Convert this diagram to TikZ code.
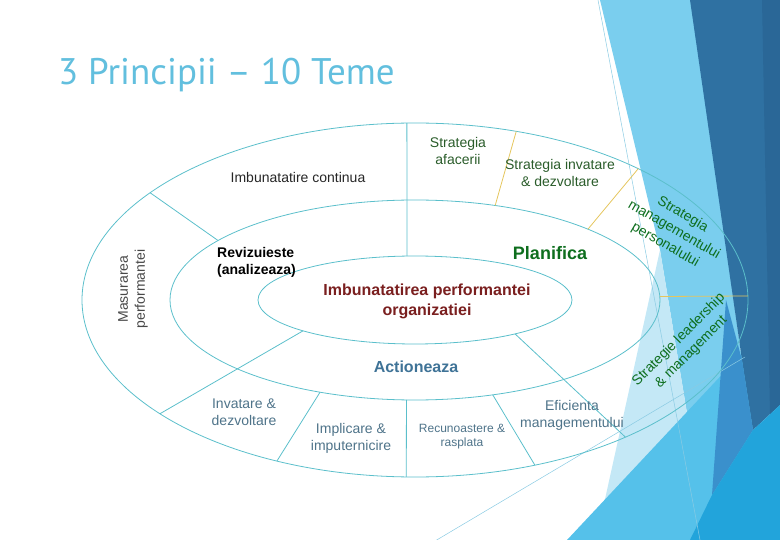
\documentclass[tikz,border=0pt]{standalone}
\usepackage{fontspec}
\setmainfont{Liberation Sans}
\newfontfamily\titlefont{PT Sans}
\usepackage{tikz}
\usetikzlibrary{calc}
\definecolor{ring}{HTML}{5BBFCB}
\definecolor{gold}{HTML}{E5C65E}
\definecolor{titleblue}{HTML}{62BFDE}
\definecolor{ink}{HTML}{262626}
\definecolor{forest}{HTML}{2A5C2A}
\definecolor{leaf}{HTML}{0E6E1E}
\definecolor{wine}{HTML}{7A1F1F}
\definecolor{steel}{HTML}{3F7397}
\definecolor{slate}{HTML}{4E7389}
\definecolor{facetpale}{HTML}{C4E8F6}
\definecolor{facetlight}{HTML}{7ACEEE}
\definecolor{facetcyan}{HTML}{55C1EA}
\definecolor{facetmid}{HTML}{3A90CC}
\definecolor{facetbright}{HTML}{22A4DB}
\definecolor{facetdark}{HTML}{2F71A2}
\definecolor{facetnavy}{HTML}{2A6797}
\definecolor{facetline}{HTML}{8ACBE3}
\tikzset{
  ringline/.style={draw=ring,line width=0.8pt},
  goldline/.style={draw=gold,line width=0.8pt},
  thinline/.style={draw=facetline,line width=0.5pt},
  theme/.style={align=center,inner sep=1pt,font=\fontsize{14}{17}\selectfont},
  tilted/.style={theme,text=leaf,font=\fontsize{14}{17.5}\selectfont},
  phase/.style={align=center,inner sep=1pt,font=\bfseries\fontsize{16}{20}\selectfont}
}
\begin{document}
\begin{tikzpicture}[x=1pt,y=-1pt]
  \useasboundingbox (0,0) rectangle (780,540);
  \fill[facetlight] (600,0) -- (692,0) -- (742,360) -- (708,540) -- (660,250) -- cycle;
  \fill[facetpale] (660,250) -- (708,540) -- (596,540) -- cycle;
  \fill[facetcyan] (567,540) -- (745,350) -- (765,540) -- cycle;
  \fill[facetdark] (690,0) -- (780,0) -- (780,405) -- (753,430) -- (742,360) -- cycle;
  \fill[facetnavy] (762,0) -- (780,0) -- (780,405) -- (770,414) -- cycle;
  \fill[facetmid] (726,300) -- (742,360) -- (753,430) -- (712,495) -- cycle;
  \fill[facetbright] (753,430) -- (780,405) -- (780,540) -- (690,540) -- (712,495) -- cycle;
  \draw[thinline] (598,0) -- (700,540);
  \draw[thinline] (435,541) -- (745,357);

  \node[anchor=west,inner sep=0pt,text=titleblue,font=\titlefont\fontsize{37}{42}\selectfont] (title) at (58,75) {3 Principii – 10 Teme};

  \coordinate (ctr) at (415,300);
  \draw[ringline] (ctr) ellipse [x radius=333pt,y radius=177pt];
  \draw[ringline] (ctr) ellipse [x radius=245pt,y radius=100pt];
  \draw[ringline] (ctr) ellipse [x radius=157pt,y radius=44pt];
  \draw[ringline] ($(ctr)+(91.4:333pt and 177pt)$) -- ($(ctr)+(92.9:157pt and 44pt)$);
  \draw[ringline] ($(ctr)+(142.7:333pt and 177pt)$) -- ($(ctr)+(143.5:245pt and 100pt)$);
  \draw[ringline] ($(ctr)+(220:333pt and 177pt)$) -- ($(ctr)+(224.5:157pt and 44pt)$);
  \draw[ringline] ($(ctr)+(245.5:333pt and 177pt)$) -- ($(ctr)+(247.2:245pt and 100pt)$);
  \draw[ringline] ($(ctr)+(268.5:333pt and 177pt)$) -- ($(ctr)+(268:245pt and 100pt)$);
  \draw[ringline] ($(ctr)+(291.1:333pt and 177pt)$) -- ($(ctr)+(288.5:245pt and 100pt)$);
  \draw[ringline] ($(ctr)+(309.2:333pt and 177pt)$) -- ($(ctr)+(309.6:157pt and 44pt)$);
  \draw[goldline] ($(ctr)+(72.3:333pt and 177pt)$) -- ($(ctr)+(70.9:245pt and 100pt)$);
  \draw[goldline] ($(ctr)+(47.9:333pt and 177pt)$) -- ($(ctr)+(45.1:245pt and 100pt)$);
  \draw[goldline] ($(ctr)+(1.3:333pt and 177pt)$) -- ($(ctr)+(2:245pt and 100pt)$);

  \node[theme,text=ink] (imbcont) at (298,177) {Imbunatatire continua};
  \node[theme,text=forest] (stratafac) at (458,151) {Strategia\\afacerii};
  \node[theme,text=forest] (stratinv) at (560,173) {Strategia invatare\\\& dezvoltare};
  \node[tilted,rotate=-30] (stratpers) at (674,230) {Strategia\\managementului\\personalului};
  \node[tilted,rotate=45] (stratlead) at (685,346) {Strategie leadership\\\& management};
  \node[theme,text=ink!85,rotate=90] (masperf) at (133,289) {Masurarea\\performantei};
  \node[theme,text=slate] (eficient) at (572,415) {Eficienta\\managementului};
  \node[theme,text=slate,font=\fontsize{12}{14}\selectfont] (recun) at (462,437) {Recunoastere \&\\rasplata};
  \node[theme,text=slate] (implic) at (351,438) {Implicare \&\\imputernicire};
  \node[theme,text=slate] (invdezv) at (244,412) {Invatare \&\\dezvoltare};

  \node[theme,anchor=west,align=left,text=black,font=\bfseries\fontsize{14}{17}\selectfont] (reviz) at (216,262) {Revizuieste\\(analizeaza)};
  \node[phase,text=leaf,font=\bfseries\fontsize{18}{20}\selectfont] (planif) at (550,253) {Planifica};
  \node[phase,text=wine] (imbperf) at (427,301) {Imbunatatirea performantei\\organizatiei};
  \node[phase,text=steel] (actiona) at (416,367) {Actioneaza};
\end{tikzpicture}
\end{document}
